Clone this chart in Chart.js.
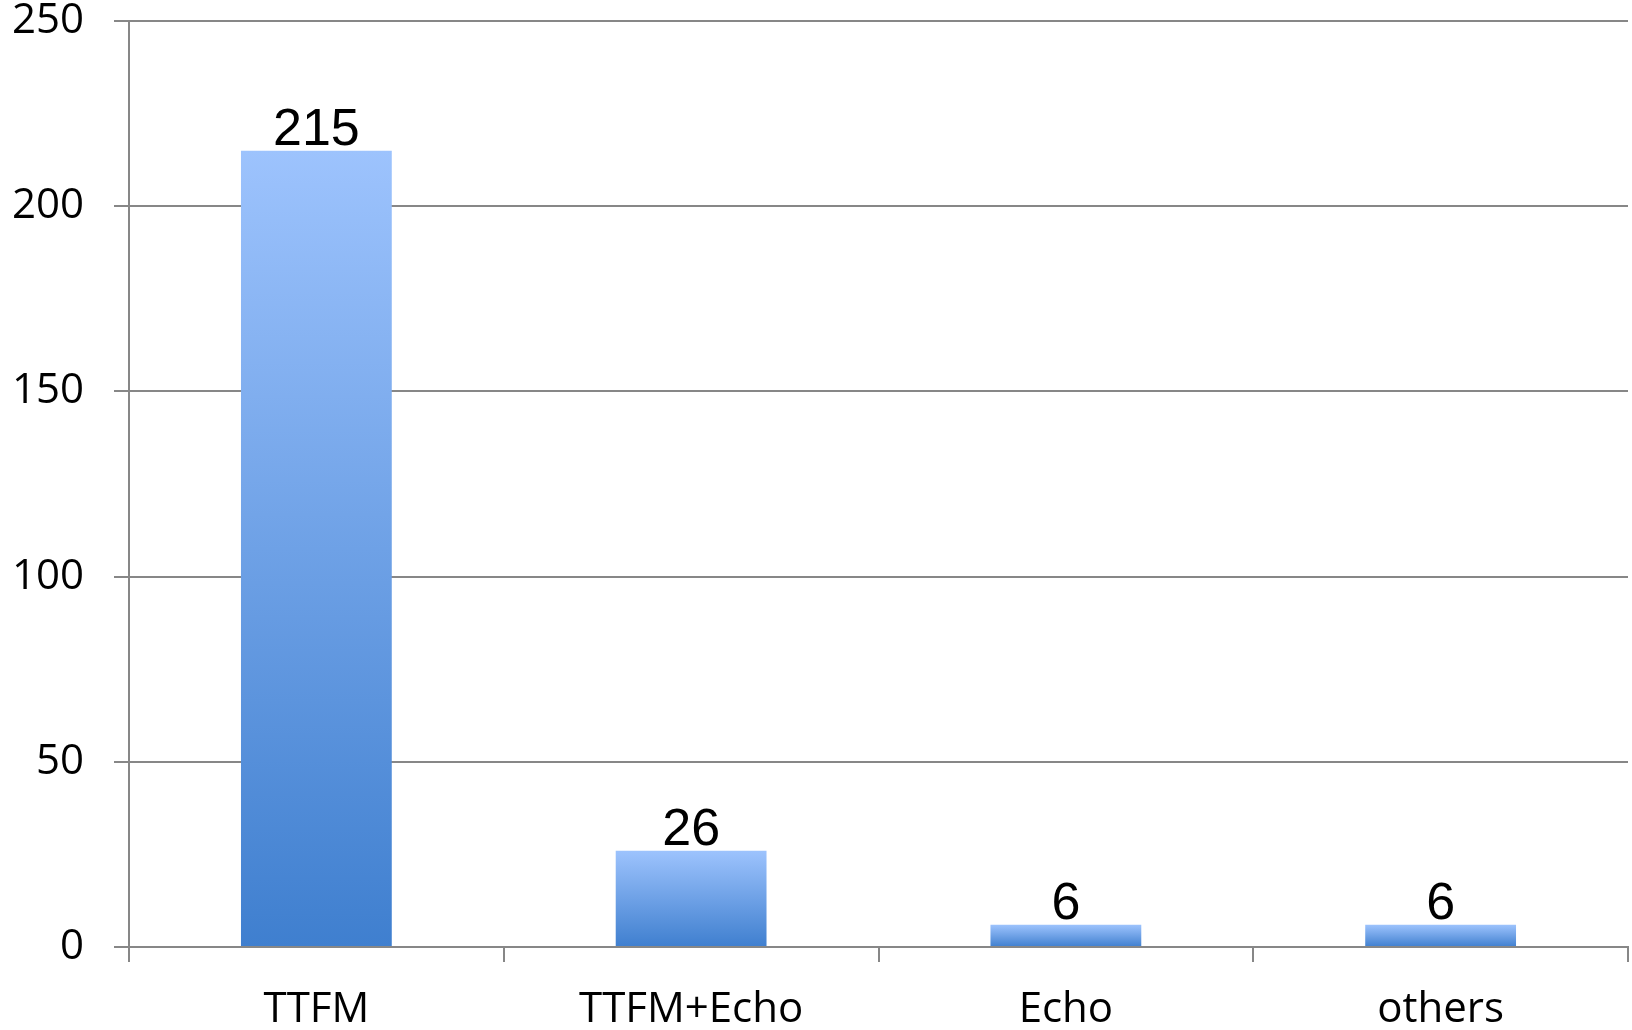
<!DOCTYPE html>
<html>
<head>
<meta charset="utf-8">
<script src="https://cdn.jsdelivr.net/npm/chart.js@4"></script>
<style>
  html, body { margin: 0; padding: 0; background: #fff; }
  #wrap { width: 1632px; height: 1030px; }
</style>
</head>
<body>
<div id="wrap"><canvas id="barChart"></canvas></div>
<script>
const categories = ["TTFM", "TTFM+Echo", "Echo", "others"];
const counts = [215, 26, 6, 6];
const yTicks = [0, 50, 100, 150, 200, 250];

const gridColor = "#878787";

// each bar gets its own light-to-dark vertical gradient
function barGradient(context) {
  const chart = context.chart;
  const y = chart.scales.y;
  if (!chart.chartArea || !y) return "#6f9ee6";
  const v = context.raw;
  const top = y.getPixelForValue(v);
  const bottom = y.getPixelForValue(0);
  const g = chart.ctx.createLinearGradient(0, top, 0, bottom);
  g.addColorStop(0, "#9dc3fd");
  g.addColorStop(1, "#3f7fcf");
  return g;
}

// value labels above the bars
const valueLabels = {
  id: "valueLabels",
  afterDatasetsDraw(chart) {
    const ctx = chart.ctx;
    const meta = chart.getDatasetMeta(0);
    ctx.save();
    ctx.font = "52px 'Liberation Sans', Arial, sans-serif";
    ctx.fillStyle = "#000";
    ctx.textAlign = "center";
    ctx.textBaseline = "alphabetic";
    meta.data.forEach((bar, i) => {
      ctx.fillText(String(counts[i]), bar.x, bar.y - 6);
    });
    ctx.restore();
  },
};

new Chart(document.getElementById("barChart").getContext("2d"), {
  type: "bar",
  data: {
    labels: categories,
    datasets: [
      {
        data: counts,
        backgroundColor: barGradient,
        borderWidth: 0,
        categoryPercentage: 0.8,
        barPercentage: 0.503,
      },
    ],
  },
  options: {
    responsive: true,
    maintainAspectRatio: false,
    animation: false,
    layout: { padding: { top: 0, right: 4, left: 0, bottom: 0 } },
    plugins: {
      legend: { display: false },
      tooltip: { enabled: false },
    },
    scales: {
      x: {
        grid: {
          offset: true,
          drawOnChartArea: false,
          drawTicks: true,
          tickLength: 15,
          color: gridColor,
          lineWidth: 2,
        },
        border: { display: true, color: gridColor, width: 2 },
        ticks: {
          color: "#000",
          font: { family: "'Open Sans', sans-serif", size: 42 },
          padding: 23,
          maxRotation: 0,
        },
        afterFit(scale) { scale.height = 83; },
      },
      y: {
        min: 0,
        max: 250,
        afterBuildTicks(scale) {
          scale.ticks = yTicks.map((v) => ({ value: v }));
        },
        grid: {
          color: gridColor,
          lineWidth: 2,
          tickLength: 15,
        },
        border: { display: true, color: gridColor, width: 2 },
        ticks: {
          color: "#000",
          font: { family: "'Open Sans', sans-serif", size: 42 },
          padding: 30,
        },
        afterFit(scale) {
          scale.width = 129;
          // tick padding is also added above the axis; keep just the label half-height
          scale.paddingTop = 21;
          scale.paddingBottom = 21;
        },
      },
    },
  },
  plugins: [valueLabels],
});
</script>
</body>
</html>
